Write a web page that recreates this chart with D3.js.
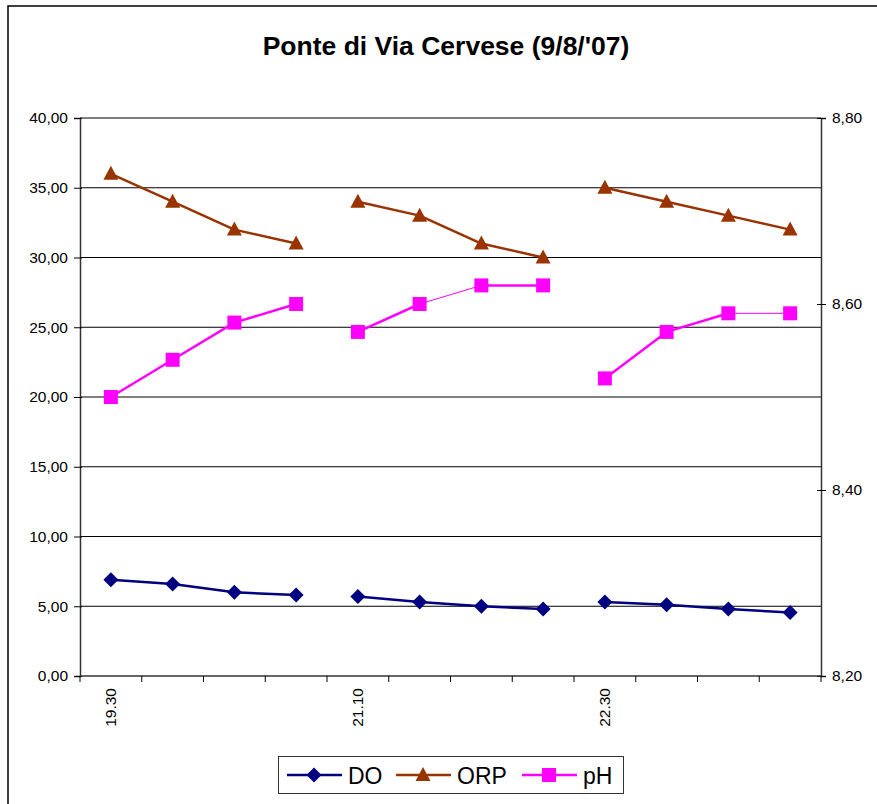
<!DOCTYPE html>
<html>
<head>
<meta charset="utf-8">
<script src="https://cdn.jsdelivr.net/npm/d3@7"></script>
<style>
  html, body { margin: 0; padding: 0; background: #fff; }
  svg { display: block; font-family: "Liberation Sans", Arial, sans-serif; }
</style>
</head>
<body>
<svg id="chart" width="877" height="804"></svg>
<script>
// ---- data ----
const categories = ["19.30", "", "", "", "21.10", "", "", "", "22.30", "", "", ""];
const session = [1, 1, 1, 1, 2, 2, 2, 2, 3, 3, 3, 3];
const DO  = [6.9, 6.6, 6.0, 5.8, 5.7, 5.3, 5.0, 4.8, 5.3, 5.1, 4.8, 4.55];
const ORP = [36, 34, 32, 31, 34, 33, 31, 30, 35, 34, 33, 32];
const pH  = [8.50, 8.54, 8.58, 8.60, 8.57, 8.60, 8.62, 8.62, 8.52, 8.57, 8.59, 8.59];
const leftTicks  = [0, 5, 10, 15, 20, 25, 30, 35, 40];
const rightTicks = [8.2, 8.4, 8.6, 8.8];
const seriesNames = ["DO", "ORP", "pH"];
const title = "Ponte di Via Cervese (9/8/'07)";

// ---- layout ----
const svg = d3.select("#chart");
const L = 80, R = 821, T = 118, B = 676;
const colors = { DO: "#000080", ORP: "#993300", pH: "#FF00FF" };
const tickFont = 15.5;

// outer frame
svg.append("rect").attr("x", 8).attr("y", 6).attr("width", 900).attr("height", 900)
  .attr("fill", "none").attr("stroke", "#000").attr("stroke-width", 1.5);

svg.append("text").attr("x", 446).attr("y", 55).attr("text-anchor", "middle")
  .attr("font-weight", "bold").attr("font-size", 26.5).text(title);

const idx = categories.map((d, i) => i);
const x = d3.scaleBand().domain(idx).range([L, R]).padding(0);
const yL = d3.scaleLinear().domain([0, 40]).range([B, T]);
const yR = d3.scaleLinear().domain([8.2, 8.8]).range([B, T]);
const cx = i => x(i) + x.bandwidth() / 2;

// gridlines
svg.append("g").selectAll("line").data(leftTicks.filter(d => d > 0)).join("line")
  .attr("x1", L).attr("x2", R).attr("y1", d => yL(d)).attr("y2", d => yL(d))
  .attr("stroke", "#000").attr("stroke-width", 1);

const fmt = d3.format(".2f");
const comma = v => fmt(v).replace(".", ",");

// left axis
const gL = svg.append("g").attr("transform", `translate(${L},0)`)
  .call(d3.axisLeft(yL).tickValues(leftTicks).tickFormat(comma).tickSize(6).tickPadding(6));
gL.select(".domain").attr("stroke", "#333").attr("stroke-width", 1.5);
gL.selectAll(".tick line").attr("x1", 2).attr("stroke", "#000");
gL.selectAll(".tick text").attr("font-size", tickFont).attr("fill", "#000")
  .attr("font-family", "Liberation Sans, Arial, sans-serif");

// right axis
const gR = svg.append("g").attr("transform", `translate(${R},0)`)
  .call(d3.axisRight(yR).tickValues(rightTicks).tickFormat(comma).tickSize(5).tickPadding(6));
gR.select(".domain").attr("stroke", "#333").attr("stroke-width", 1.5);
gR.selectAll(".tick line").attr("x1", -4).attr("stroke", "#000");
gR.selectAll(".tick text").attr("font-size", tickFont).attr("fill", "#000")
  .attr("font-family", "Liberation Sans, Arial, sans-serif");

// bottom axis: ticks at category boundaries
const boundaries = idx.map(i => x(i)).concat([R]);
const gB = svg.append("g");
gB.append("line").attr("x1", L).attr("x2", R).attr("y1", B).attr("y2", B)
  .attr("stroke", "#333").attr("stroke-width", 1.5);
gB.selectAll("line.tk").data(boundaries).join("line").attr("class", "tk")
  .attr("x1", d => d).attr("x2", d => d).attr("y1", B).attr("y2", B + 6)
  .attr("stroke", "#000");
gB.selectAll("text").data(idx.filter(i => categories[i] !== "")).join("text")
  .attr("transform", i => `translate(${cx(i) + 5.5},${B + 12}) rotate(-90)`)
  .attr("text-anchor", "end").attr("font-size", tickFont).text(i => categories[i]);

// series
const series = [
  { name: "DO", vals: DO, y: yL, marker: "diamond" },
  { name: "ORP", vals: ORP, y: yL, marker: "triangle" },
  { name: "pH", vals: pH, y: yR, marker: "square" }
];
const thinPH = new Set([5, 10]); // segment starting index drawn with thin line

function marker(g, type, color, px, py) {
  if (type === "diamond") {
    g.append("path").attr("d", `M${px},${py - 7.5}L${px + 7.5},${py}L${px},${py + 7.5}L${px - 7.5},${py}Z`).attr("fill", color);
  } else if (type === "triangle") {
    g.append("path").attr("d", `M${px},${py - 8}L${px + 7.5},${py + 6}L${px - 7.5},${py + 6}Z`).attr("fill", color);
  } else {
    g.append("rect").attr("x", px - 7).attr("y", py - 7).attr("width", 14).attr("height", 14).attr("fill", color);
  }
}

series.forEach(s => {
  const g = svg.append("g");
  const col = colors[s.name];
  for (let i = 0; i < s.vals.length - 1; i++) {
    if (session[i] !== session[i + 1]) continue;
    const thin = s.name === "pH" && thinPH.has(i);
    g.append("line")
      .attr("x1", cx(i)).attr("y1", s.y(s.vals[i]))
      .attr("x2", cx(i + 1)).attr("y2", s.y(s.vals[i + 1]))
      .attr("stroke", col).attr("stroke-width", thin ? 1 : 2.5);
  }
  s.vals.forEach((v, i) => marker(g, s.marker, col, cx(i), s.y(v)));
});

// legend
const lg = svg.append("g");
lg.append("rect").attr("x", 278.5).attr("y", 756.5).attr("width", 345).attr("height", 37)
  .attr("fill", "#fff").attr("stroke", "#333").attr("stroke-width", 1);
const legendX = [287, 396, 522];
series.forEach((s, k) => {
  const x0 = legendX[k], ly = 775;
  const col = colors[s.name];
  lg.append("line").attr("x1", x0).attr("x2", x0 + 55).attr("y1", ly).attr("y2", ly)
    .attr("stroke", col).attr("stroke-width", 2.5);
  marker(lg, s.marker, col, x0 + 27, ly);
  lg.append("text").attr("x", x0 + 61).attr("y", ly + 8.5).attr("font-size", 23).text(seriesNames[k]);
});
</script>
</body>
</html>
